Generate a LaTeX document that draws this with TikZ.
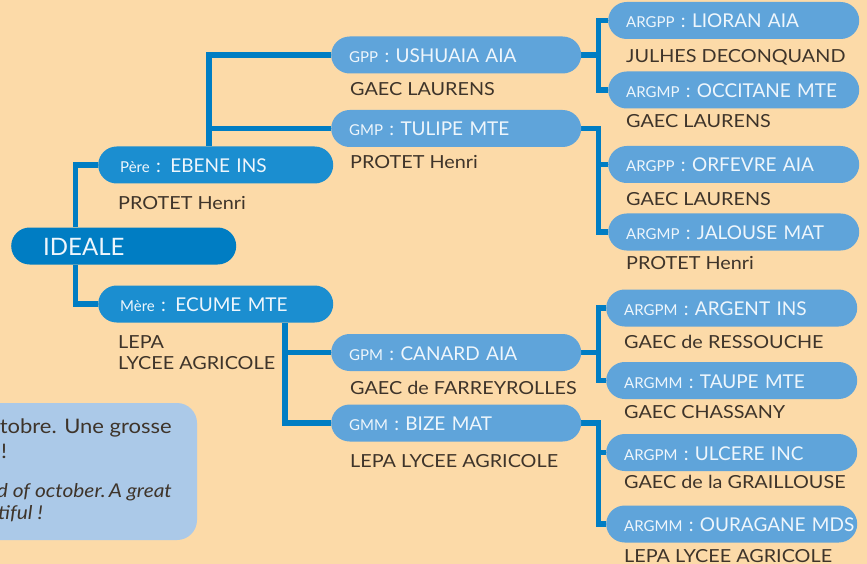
\documentclass[tikz,border=0pt]{standalone}
\usepackage{fontspec}
\setmainfont{Lato}
\newfontfamily\ownerfont{Lato}[FakeStretch=1.1]
\usetikzlibrary{backgrounds}

\definecolor{peach}{HTML}{FCDAA8}
\definecolor{deepblue}{HTML}{007DC3}
\definecolor{midblue}{HTML}{1B8ED0}
\definecolor{lightblue}{HTML}{5FA4DA}
\definecolor{noteblue}{HTML}{ABC9E8}
\definecolor{pilltext}{HTML}{EEF6FC}
\definecolor{darktext}{HTML}{3E342A}

\newcommand{\rang}[2]{\mbox{{\fontsize{15}{15}\selectfont #1} : #2}}

\begin{document}
\begin{tikzpicture}[x=1pt, y=-1pt,
    pill/.style={rounded corners=18.5pt, minimum height=37pt, anchor=west,
      text=pilltext, font=\fontsize{19}{20}\selectfont, text height=15pt, text depth=0pt,
      inner xsep=18pt, align=left},
    gen0/.style={pill, fill=deepblue, text width=161pt, inner xsep=32pt, font=\fontsize{24}{25}\selectfont, text height=18pt},
    gen1/.style={pill, fill=midblue, text width=191pt, inner xsep=22pt},
    gen2/.style={pill, fill=lightblue, text width=214pt},
    gen3/.style={pill, fill=lightblue, text width=215pt},
    owner/.style={anchor=base west, text=darktext, font=\ownerfont\fontsize{18}{21}\selectfont, inner sep=0pt, align=left},
    note/.style={owner, anchor=base east, font=\ownerfont\fontsize{20}{22}\selectfont},
    link/.style={draw=deepblue, line width=5.5pt}]
  \useasboundingbox (0,0) rectangle (867,564);
  \clip (0,0) rectangle (867,564);

  % animal
  \node (ideale) [gen0] at (11,246) {IDEALE};

  % parents
  \node (pere) [gen1] at (98,165) {\rang{Père}{EBENE INS}};
  \node (mere) [gen1] at (98,304) {\rang{Mère}{ECUME MTE}};
  \node (o-pere) [owner] at (118,209) {PROTET Henri};
  \node (o-mere) [owner] at (118,369) {LEPA\\LYCEE AGRICOLE};

  % grand-parents
  \node (gpp) [gen2] at (331,55) {\rang{GPP}{USHUAIA AIA}};
  \node (gmp) [gen2] at (331,128.5) {\rang{GMP}{TULIPE MTE}};
  \node (gpm) [gen2] at (331,352.5) {\rang{GPM}{CANARD AIA}};
  \node (gmm) [gen2] at (331,423) {\rang{GMM}{BIZE MAT}};
  \node (o-gpp) [owner] at (350,96) {GAEC LAURENS};
  \node (o-gmp) [owner] at (350,169) {PROTET Henri};
  \node (o-gpm) [owner] at (350,394) {GAEC de FARREYROLLES};
  \node (o-gmm) [owner] at (350,467) {LEPA LYCEE AGRICOLE};

  % arriere-grand-parents
  \node (argpp1) [gen3] at (608,20.5) {\rang{ARGPP}{LIORAN AIA}};
  \node (argmp1) [gen3] at (608,90) {\rang{ARGMP}{OCCITANE MTE}};
  \node (argpp2) [gen3] at (608,164.5) {\rang{ARGPP}{ORFEVRE AIA}};
  \node (argmp2) [gen3] at (608,232) {\rang{ARGMP}{JALOUSE MAT}};
  \node (argpm1) [gen3] at (606,308) {\rang{ARGPM}{ARGENT INS}};
  \node (argmm1) [gen3] at (606,380.5) {\rang{ARGMM}{TAUPE MTE}};
  \node (argpm2) [gen3] at (606,452.5) {\rang{ARGPM}{ULCERE INC}};
  \node (argmm2) [gen3] at (606,524) {\rang{ARGMM}{OURAGANE MDS}};
  \node (o-argpp1) [owner] at (626,63) {JULHES DECONQUAND};
  \node (o-argmp1) [owner] at (626,128) {GAEC LAURENS};
  \node (o-argpp2) [owner] at (626,205) {GAEC LAURENS};
  \node (o-argmp2) [owner] at (626,269) {PROTET Henri};
  \node (o-argpm1) [owner] at (624,348) {GAEC de RESSOUCHE};
  \node (o-argmm1) [owner] at (624,418) {GAEC CHASSANY};
  \node (o-argpm2) [owner] at (624,488) {GAEC de la GRAILLOUSE};
  \node (o-argmm2) [owner] at (624,562) {LEPA LYCEE AGRICOLE};

  % comment
  \fill[noteblue, rounded corners=20pt] (-40,403) rectangle (197,540);
  \node (note1) [note] at (172,433) {tobre. Une grosse};
  \node (note2) [note, anchor=base west] at (1,458) {!};
  \node (note3) [note, font=\ownerfont\fontsize{19}{22}\selectfont\itshape] at (172,497) {d of october.\,A great};
  \node (note4) [note, font=\ownerfont\fontsize{19}{22}\selectfont\itshape] at (43,519) {tiful !};

  \coordinate (ia) at (75.5,227);
  \coordinate (ib) at (75.5,265);
  \coordinate (pa) at (209,146);
  \coordinate (ma) at (285,323);
  \path (gpp.east) ++(17,0) coordinate (ja);
  \path (gmp.east) ++(17,0) coordinate (jb);
  \path (gpm.east) ++(17,0) coordinate (jc);
  \path (gmm.east) ++(17,0) coordinate (jd);

  \begin{scope}[on background layer]
    \fill[peach] (0,0) rectangle (867,564);
    \draw[link] (pere.west) -| (ia);
    \draw[link] (mere.west) -| (ib);
    \draw[link] (gpp.west) -| (pa);
    \draw[link] (gmp.west) -- (gmp.west -| pa);
    \draw[link] (gpm.west) -| (ma);
    \draw[link] (gmm.west) -| (ma);
    \draw[link] (gpp.east) -- (ja);
    \draw[link] (argpp1.west) -| (ja) |- (argmp1.west);
    \draw[link] (gmp.east) -- (jb) |- (argmp2.west);
    \draw[link] (argpp2.west) -- (argpp2.west -| jb);
    \draw[link] (gpm.east) -- (jc);
    \draw[link] (argpm1.west) -| (jc) |- (argmm1.west);
    \draw[link] (gmm.east) -- (jd) |- (argmm2.west);
    \draw[link] (argpm2.west) -- (argpm2.west -| jd);
  \end{scope}
\end{tikzpicture}
\end{document}
